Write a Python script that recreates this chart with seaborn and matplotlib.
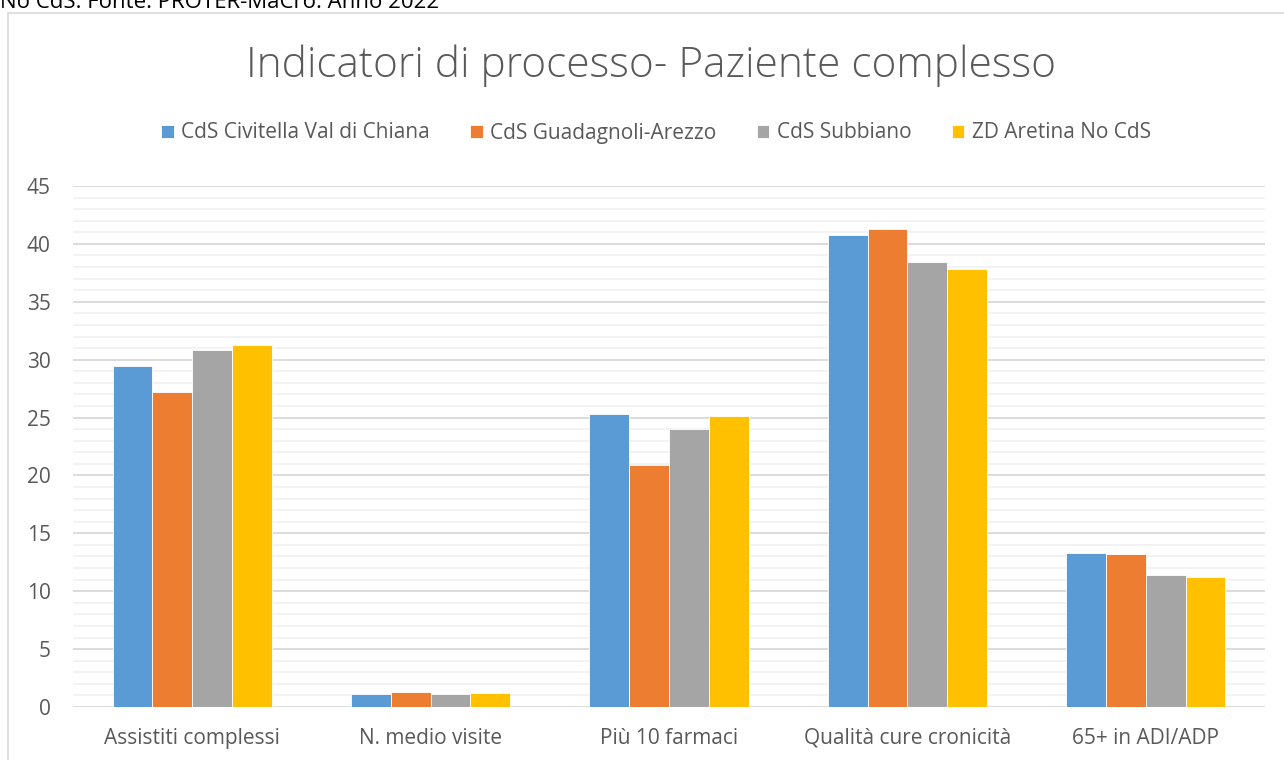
import matplotlib
matplotlib.use("Agg")
import matplotlib.pyplot as plt
from matplotlib.patches import Rectangle
from matplotlib.ticker import MultipleLocator
import seaborn as sns
import pandas as pd

categories = ["Assistiti complessi", "N. medio visite", "Più 10 farmaci",
              "Qualità cure cronicità", "65+ in ADI/ADP"]
series_names = ["CdS Civitella Val di Chiana", "CdS Guadagnoli-Arezzo",
                "CdS Subbiano", "ZD Aretina No CdS"]
civitella = [29.45, 1.12, 25.3, 40.8, 13.27]
guadagnoli = [27.2, 1.3, 20.9, 41.25, 13.2]
subbiano = [30.8, 1.12, 24.0, 38.4, 11.37]
zd_aretina = [31.25, 1.2, 25.1, 37.8, 11.2]
colors = ["#5B9BD5", "#ED7D31", "#A5A5A5", "#FFC000"]
title = "Indicatori di processo- Paziente complesso"
top_note = "No CdS. Fonte: PROTER-MaCro. Anno 2022"

rows = []
for name, vals in zip(series_names, [civitella, guadagnoli, subbiano, zd_aretina]):
    for c, v in zip(categories, vals):
        rows.append({"Indicatore": c, "Serie": name, "Valore": v})
df = pd.DataFrame(rows)

sns.set_theme(style="white")
plt.rcParams['font.family'] = ['Open Sans', 'DejaVu Sans']

fig = plt.figure(figsize=(12.84, 7.6), dpi=100)
ax = fig.add_axes([73/1284, 1-707/760, (1265-73)/1284, (707-186)/760])

sns.barplot(data=df, x="Indicatore", y="Valore", hue="Serie", order=categories,
            hue_order=series_names, palette=colors, width=0.667, ax=ax,
            edgecolor="white", linewidth=0.6, saturation=1, errorbar=None)

ax.set_ylim(0, 45)
ax.set_xlim(-0.5, len(categories)-0.5)
ax.yaxis.set_major_locator(MultipleLocator(5))
ax.yaxis.set_minor_locator(MultipleLocator(1))
ax.grid(axis='y', which='major', color='#D9D9D9', linewidth=1.3, zorder=0)
ax.grid(axis='y', which='minor', color='#F2F2F2', linewidth=1.3, zorder=0)
ax.set_axisbelow(True)
for s in ax.spines.values():
    s.set_visible(False)
ax.set_xlabel("")
ax.set_ylabel("")
ax.tick_params(axis='both', which='both', length=0, labelsize=15, colors='#595959')
ax.tick_params(axis='y', pad=16)
ax.tick_params(axis='x', pad=15)

leg = ax.legend(loc='center', ncol=4, frameon=False,
                fontsize=15, handlelength=0.6, handleheight=0.6,
                columnspacing=1.95, handletextpad=0.35)
for t in leg.get_texts():
    t.set_color('#595959')
leg.set_bbox_to_anchor((656/1284, 1-133/760), transform=fig.transFigure)

fig.text(651/1284, 1-66/760, title, ha='center', va='center', fontsize=30.5,
         color='#595959', fontweight='light')
fig.text(0.0, 1-8/760, top_note, ha='left', va='baseline', fontsize=16, color='black')

fig.patches.append(Rectangle((8/1284, -0.1), 1.2, 1-13/760+0.1, transform=fig.transFigure,
                             fill=False, edgecolor='#D9D9D9', linewidth=1.2))

fig.savefig("out.png", dpi=100, facecolor='white')
